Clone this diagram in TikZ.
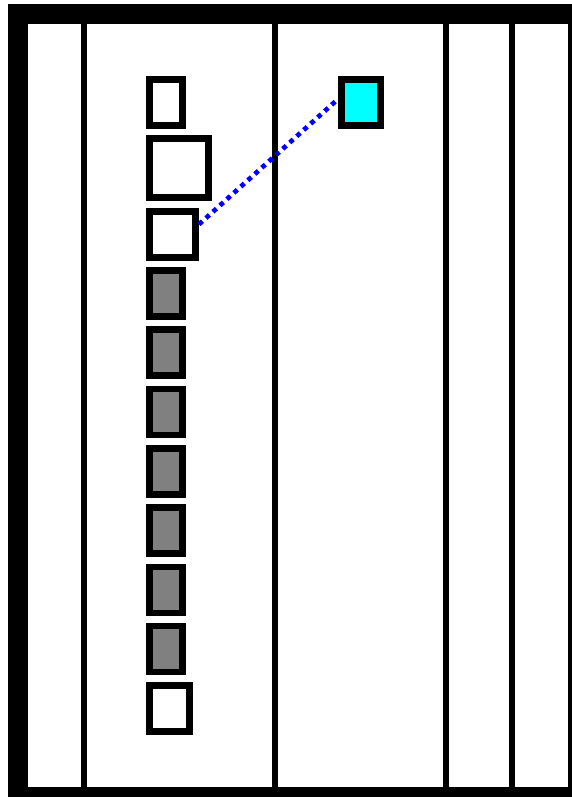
\documentclass[tikz,border=0pt]{standalone}
\usetikzlibrary{calc}
\definecolor{boxcyan}{RGB}{0,255,255}
\definecolor{connblue}{RGB}{0,0,255}
\definecolor{boxgray}{RGB}{128,128,128}
\begin{document}
\begin{tikzpicture}[x=1pt,y=-1pt,
  box/.style={draw=black,line width=6.67pt,inner sep=0pt,outer sep=0pt,fill=white},
  graybox/.style={box,fill=boxgray,minimum width=33pt,minimum height=46pt},
  conn/.style={draw=connblue,line width=4.7pt,dash pattern=on 4.7pt off 4.7pt}]
\useasboundingbox (0,0) rectangle (572,797);
% frame
\fill[black] (8,4) rectangle (572,797);
\fill[white] (28,24) rectangle (568,787);
% columns
\foreach \xc in {84,275,446,512} {
  \fill[black] (\xc-3,24) rectangle (\xc+3,787);
}
% boxes
\node[box,minimum width=33pt,minimum height=46pt] (b1) at (165.85,102.35) {};
\node[box,minimum width=59.3pt,minimum height=59pt] (b2) at (179,167.85) {};
\node[box,minimum width=46.3pt,minimum height=46pt] (b3) at (172.5,234.35) {};
\node[graybox] (g1) at (165.85,293.35) {};
\node[graybox] (g2) at (165.85,352.65) {};
\node[graybox] (g3) at (165.85,411.95) {};
\node[graybox] (g4) at (165.85,471.25) {};
\node[graybox] (g5) at (165.85,530.55) {};
\node[graybox] (g6) at (165.85,589.85) {};
\node[graybox] (g7) at (165.85,649.15) {};
\node[box,minimum width=40pt,minimum height=46pt] (b4) at (169.35,708.35) {};
\node[box,fill=boxcyan,minimum width=39.3pt,minimum height=46pt] (cy) at (361,102.35) {};
% connector
\draw[conn] ([shift={(3.3pt,10pt)}]b3.east) -- ([shift={(-3.3pt,3.3pt)}]cy.west);
\end{tikzpicture}
\end{document}
